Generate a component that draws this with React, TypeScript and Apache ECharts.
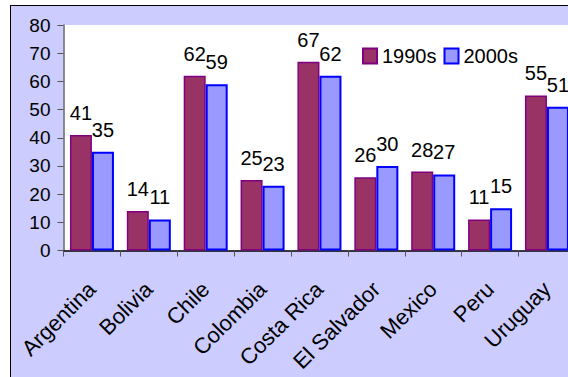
import React, { useEffect, useRef } from "react";
import * as echarts from "echarts";

const countries = [
  "Argentina",
  "Bolivia",
  "Chile",
  "Colombia",
  "Costa Rica",
  "El Salvador",
  "Mexico",
  "Peru",
  "Uruguay",
];
const values1990s = [41, 14, 62, 25, 67, 26, 28, 11, 55];
const values2000s = [35, 11, 59, 23, 62, 30, 27, 15, 51];
const yTicks = [0, 10, 20, 30, 40, 50, 60, 70, 80];

const FONT = "'Liberation Sans', Arial, sans-serif";

export default function App() {
  const ref = useRef<HTMLDivElement>(null);

  useEffect(() => {
    if (!ref.current) return;
    const chart = echarts.init(ref.current, undefined, { renderer: "svg" });
    const dataLabel = {
      show: true,
      position: "top" as const,
      distance: 12,
      color: "#000",
      fontSize: 20,
      fontFamily: FONT,
    };
    chart.setOption({
      animation: false,
      textStyle: { fontFamily: FONT },
      grid: {
        left: 63.5,
        top: 25,
        right: 44.6,
        bottom: 126.5,
        show: true,
        backgroundColor: "#ffffff",
        borderWidth: 0,
      },
      legend: {
        left: 357,
        top: 41,
        itemWidth: 14,
        itemHeight: 15,
        itemGap: 7,
        icon: "rect",
        textStyle: { fontSize: 20, color: "#000", fontFamily: FONT },
        data: ["1990s", "2000s"],
      },
      xAxis: {
        type: "category",
        data: countries,
        boundaryGap: true,
        axisLine: { show: true, lineStyle: { color: "#000", width: 1.5 } },
        axisTick: {
          show: true,
          interval: 0,
          length: 6,
          lineStyle: { color: "#555" },
        },
        axisLabel: {
          interval: 0,
          rotate: 45,
          margin: 35,
          fontSize: 22,
          color: "#000",
          fontFamily: FONT,
        },
      },
      yAxis: {
        type: "value",
        min: yTicks[0],
        max: yTicks[yTicks.length - 1],
        interval: 10,
        axisLine: { show: true, lineStyle: { color: "#666", width: 1.5 } },
        axisTick: { show: true, length: 6, lineStyle: { color: "#555" } },
        splitLine: { show: false },
        axisLabel: {
          margin: 13,
          fontSize: 19,
          color: "#000",
          fontFamily: FONT,
        },
      },
      series: [
        {
          name: "1990s",
          type: "bar",
          data: values1990s,
          barWidth: 22,
          barGap: "0%",
          itemStyle: { color: "#993366", borderColor: "#800080", borderWidth: 1.5 },
          label: dataLabel,
        },
        {
          name: "2000s",
          type: "bar",
          data: values2000s,
          barWidth: 22,
          barGap: "0%",
          itemStyle: { color: "#9999FF", borderColor: "#0000FF", borderWidth: 2 },
          label: dataLabel,
        },
      ],
    });
    return () => chart.dispose();
  }, []);

  return (
    <div
      style={{
        position: "absolute",
        left: 0,
        top: 0,
        width: 568,
        height: 377,
        overflow: "hidden",
        background: "#ffffff",
      }}
    >
      <div
        style={{
          position: "absolute",
          left: 10,
          top: 5,
          width: 700,
          height: 500,
          background: "#CCCCFF",
          border: "1px solid #000",
          boxSizing: "border-box",
        }}
      />
      <div
        ref={ref}
        style={{ position: "absolute", left: 0, top: 0, width: 620, height: 377 }}
      />
    </div>
  );
}
